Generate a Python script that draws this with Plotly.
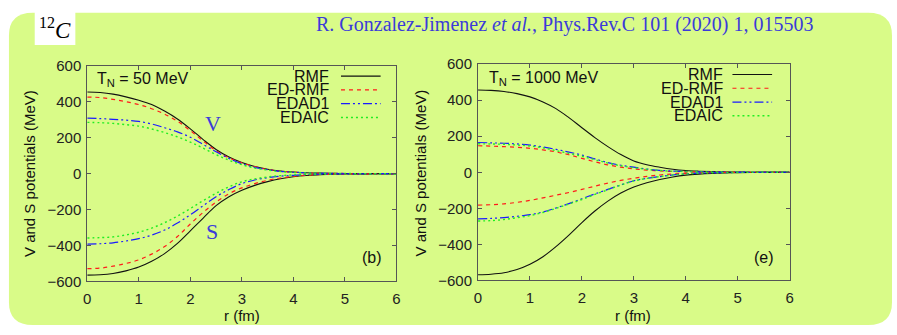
import plotly.graph_objects as go

W, H = 897, 335

r = [0, 0.25, 0.5, 0.75, 1, 1.25, 1.5, 1.75, 2, 2.25, 2.5, 2.75, 3, 3.25, 3.5, 3.75,
     4, 4.25, 4.5, 4.75, 5, 5.25, 5.5, 5.75, 6]

series_names = ["RMF", "ED-RMF", "EDAD1", "EDAIC"]

# T_N = 50 MeV : vector (V) and scalar (S) potentials
v50_rmf = [455, 452, 443, 428, 409, 385, 349, 305, 250, 190, 135, 93, 62, 40, 25, 15, 9, 5, 3, 2, 1, 0.5, 0, 0, 0]
v50_edrmf = [427, 424, 414, 401, 385, 362, 332, 292, 240, 182, 128, 88, 60, 39, 24, 14, 8, 5, 3, 2, 1, 0.5, 0, 0, 0]
v50_edad1 = [309, 307, 303, 298, 291, 277, 256, 233, 203, 163, 122, 85, 55, 35, 22, 13, 8, 5, 3, 2, 1, 0.5, 0, 0, 0]
v50_edaic = [286, 284, 280, 273, 265, 249, 229, 205, 176, 142, 106, 75, 50, 32, 20, 12, 7, 4, 2.5, 1.5, 1, 0.5, 0, 0, 0]
s50_rmf = [-565, -563, -556, -541, -520, -488, -445, -388, -318, -247, -178, -128, -92, -65, -44, -28, -17, -10, -6, -3, -2, -1, -0.5, 0, 0]
s50_edrmf = [-529, -526, -515, -500, -480, -448, -406, -350, -280, -215, -158, -112, -79, -55, -37, -24, -15, -9, -5, -3, -2, -1, -0.5, 0, 0]
s50_edad1 = [-392, -390, -385, -375, -362, -342, -314, -275, -229, -178, -128, -88, -55, -35, -22, -14, -9, -5, -3, -2, -1, -0.5, 0, 0, 0]
s50_edaic = [-358, -356, -352, -341, -326, -303, -273, -236, -194, -150, -109, -73, -45, -29, -18, -11, -7, -4, -2.5, -1.5, -1, -0.5, 0, 0, 0]

# T_N = 1000 MeV
v1000_rmf = [456, 454, 448, 436, 418, 390, 353, 303, 247, 192, 142, 98, 63, 42, 28, 17, 10, 6, 3.5, 2, 1, 0.5, 0, 0, 0]
v1000_edrmf = [147, 145, 142, 138, 133, 124, 113, 97, 77, 58, 41, 28, 19, 12, 7, 4, 2.5, 1.5, 1, 0.5, 0, 0, 0, 0, 0]
v1000_edad1 = [165, 163, 161, 157, 151, 140, 127, 112, 95, 74, 54, 39, 28, 18, 11, 7, 4, 2.5, 1.5, 1, 0.5, 0, 0, 0, 0]
v1000_edaic = [158, 157, 155, 151, 146, 135, 120, 105, 89, 70, 51, 36, 25, 16, 10, 6, 4, 2.5, 1.5, 1, 0.5, 0, 0, 0, 0]
s1000_rmf = [-568, -565, -557, -539, -510, -468, -412, -348, -279, -215, -160, -115, -82, -58, -40, -26, -16, -10, -6, -3.5, -2, -1, -0.5, 0, 0]
s1000_edrmf = [-182, -180, -175, -167, -156, -142, -127, -112, -95, -77, -60, -45, -33, -23, -15, -10, -6, -3.5, -2, -1, -0.5, 0, 0, 0, 0]
s1000_edad1 = [-258, -256, -251, -244, -235, -220, -198, -174, -147, -120, -95, -70, -47, -34, -24, -15, -9, -5, -3, -2, -1, -0.5, 0, 0, 0]
s1000_edaic = [-270, -268, -262, -252, -240, -223, -200, -176, -151, -123, -97, -71, -48, -34, -24, -15, -9, -5, -3, -2, -1, -0.5, 0, 0, 0]

x_ticks = [0, 1, 2, 3, 4, 5, 6]
y_ticks = [-600, -400, -200, 0, 200, 400, 600]

colors = {"RMF": "#111111", "ED-RMF": "#ff1a1a", "EDAD1": "#1a1aff", "EDAIC": "#22ee22"}
dashes = {"RMF": "solid", "ED-RMF": "4px,4px", "EDAD1": "9px,3px,2px,3px,2px,3px", "EDAIC": "2px,3px"}
widths = {"RMF": 1.1, "ED-RMF": 1.2, "EDAD1": 1.2, "EDAIC": 1.4}


def px(x):
    return x / W


def py(y):
    return 1 - y / H


fig = go.Figure()

panels = [
    ("x", "y", [v50_rmf, v50_edrmf, v50_edad1, v50_edaic], [s50_rmf, s50_edrmf, s50_edad1, s50_edaic]),
    ("x2", "y2", [v1000_rmf, v1000_edrmf, v1000_edad1, v1000_edaic], [s1000_rmf, s1000_edrmf, s1000_edad1, s1000_edaic]),
]
for xa, ya, vs, ss in panels:
    for group in (vs, ss):
        for name, vals in zip(series_names, group):
            fig.add_trace(go.Scatter(
                x=r, y=vals, mode="lines", xaxis=xa, yaxis=ya, showlegend=False,
                line=dict(color=colors[name], dash=dashes[name], width=widths[name], shape="spline"),
                hoverinfo="skip"))

axis_common = dict(
    showgrid=False, zeroline=False, showline=True, mirror="ticks", linecolor="#555555",
    linewidth=1, ticks="inside", ticklen=4, tickcolor="#555555",
    tickfont=dict(family="Liberation Sans, Arial", size=15, color="#222222"),
)

fig.update_layout(
    width=W, height=H, margin=dict(l=0, r=0, t=0, b=0),
    paper_bgcolor="white", plot_bgcolor="rgba(0,0,0,0)",
    xaxis=dict(domain=[px(84), px(396)], range=[0, 6], tickvals=x_ticks, anchor="y",
               ticklabelstandoff=4, **axis_common),
    yaxis=dict(domain=[py(287), py(60)], range=[-600, 600], tickvals=y_ticks, anchor="x",
               ticklabelstandoff=2, **axis_common),
    xaxis2=dict(domain=[px(478.3), px(792.7)], range=[0, 6], tickvals=x_ticks, anchor="y2",
                ticklabelstandoff=4, **axis_common),
    yaxis2=dict(domain=[py(286), py(58)], range=[-600, 600], tickvals=y_ticks, anchor="x2",
                ticklabelstandoff=2, **axis_common),
)

# background rounded rectangle
x0, x1, y0, y1 = px(5), px(896), py(333), py(4)
rx, ry = 24 / W, 24 / H
path = (f"M {x0+rx},{y1} L {x1-rx},{y1} Q {x1},{y1} {x1},{y1-ry} "
        f"L {x1},{y0+ry} Q {x1},{y0} {x1-rx},{y0} L {x0+rx},{y0} Q {x0},{y0} {x0},{y0+ry} "
        f"L {x0},{y1-ry} Q {x0},{y1} {x0+rx},{y1} Z")
shapes = [
    dict(type="path", path=path, xref="paper", yref="paper", fillcolor="#d9fb88",
         line=dict(width=0), layer="below"),
    dict(type="rect", xref="paper", yref="paper", x0=px(31), x1=px(72), y0=py(38), y1=1,
         fillcolor="white", line=dict(width=0), layer="below"),
]


def ann(text, x, y, font, xanchor="center", yanchor="middle", **kw):
    return dict(text=text, x=px(x), y=py(y), xref="paper", yref="paper", showarrow=False,
                xanchor=xanchor, yanchor=yanchor, font=font, **kw)


serif_black = dict(family="Liberation Serif, Times New Roman", size=23, color="black")
serif_blue = dict(family="Liberation Serif, Times New Roman", size=20, color="#3b3bd9")
text_font = dict(family="Liberation Sans, Arial", size=16, color="#111111")
title_font = dict(family="Liberation Sans, Arial", size=15, color="#111111")

annotations = [
    ann("<sup>12</sup><i>C</i>", 51, 21, serif_black),
    ann("R. Gonzalez-Jimenez <i>et al.</i>, Phys.Rev.C 101 (2020) 1, 015503", 566, 16, serif_blue),
]

panel_info = [
    ("T<sub>N</sub> = 50 MeV", "(b)", 92, 330, [70.7, 85.2, 99.7, 114.3], 340, 380, (371, 262), 25, 240, 74),
    ("T<sub>N</sub> = 1000 MeV", "(e)", 487, 727, [69, 83.5, 98, 112.5], 735, 775, (767, 262), 420, 635, 73),
]
for tlabel, tag, xl, xend, rows, lx0, lx1, (tx, ty), ytx, xtx, tly in panel_info:
    annotations.append(ann(tlabel, xl, tly, text_font, xanchor="left"))
    annotations.append(ann(tag, tx, ty, text_font))
    annotations.append(ann("V and S potentials (MeV)", ytx, 173, title_font, textangle=-90))
    annotations.append(ann("r (fm)", xtx, 323, title_font))
    for name, yy in zip(series_names, rows):
        annotations.append(ann(name, xend, yy, text_font, xanchor="right"))
        shapes.append(dict(type="line", xref="paper", yref="paper", x0=px(lx0), x1=px(lx1),
                           y0=py(yy), y1=py(yy),
                           line=dict(color=colors[name], dash=dashes[name], width=widths[name])))

big_blue = dict(family="Liberation Serif, Times New Roman", size=22, color="#3b3bd9")
annotations.append(ann("V", 211, 121, big_blue))
annotations.append(ann("S", 210, 234, big_blue))

fig.update_layout(shapes=shapes, annotations=annotations)
fig.write_html("out.html")
